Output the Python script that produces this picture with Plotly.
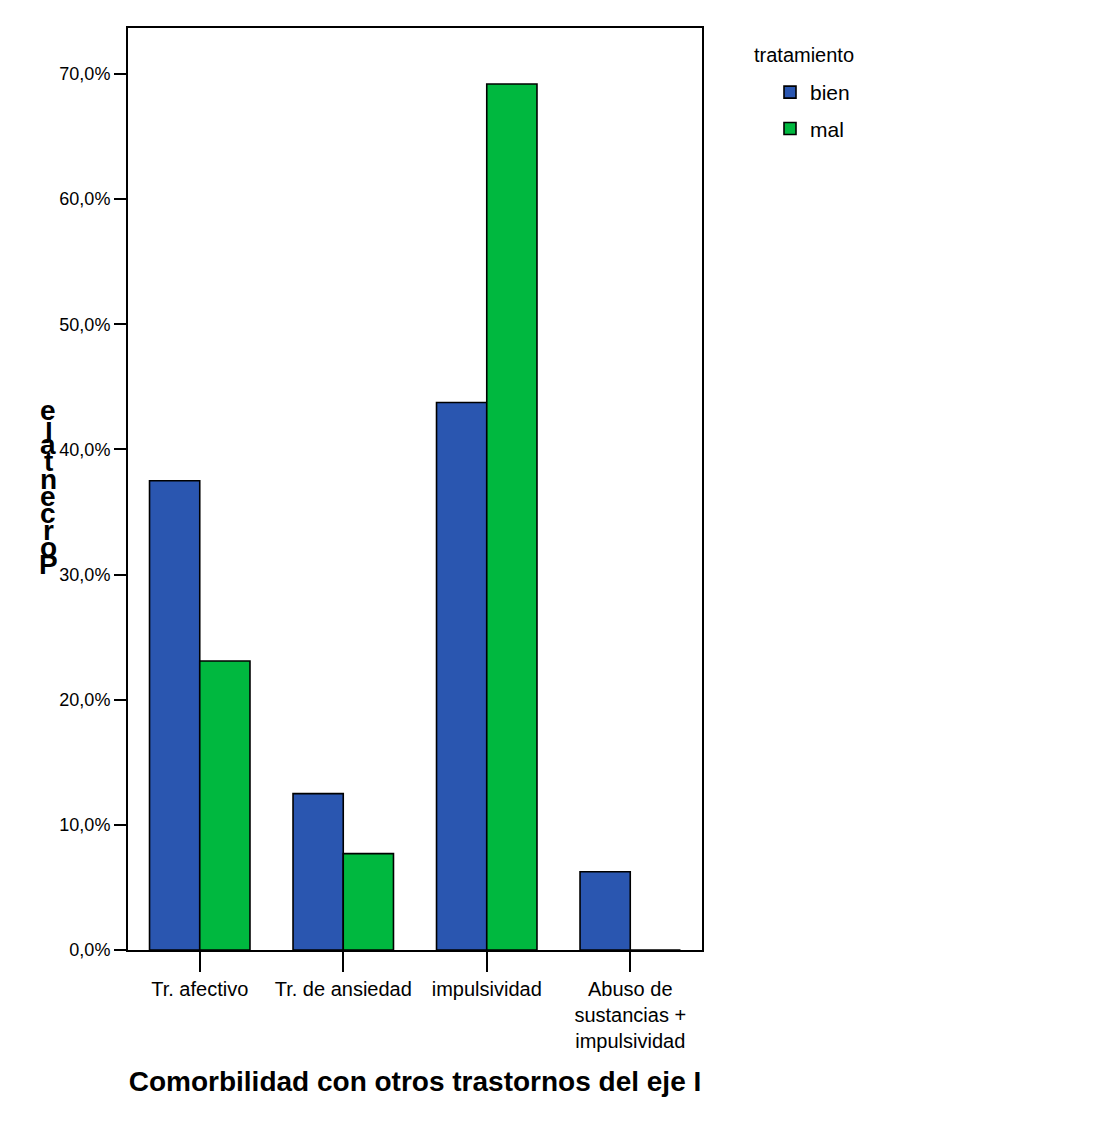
import plotly.graph_objects as go

categories = ["Tr. afectivo", "Tr. de ansiedad", "impulsividad",
              "Abuso de<br>sustancias +<br>impulsividad"]
bien = [0.375, 0.125, 0.4375, 0.0625]
mal = [0.231, 0.077, 0.692, 0.0]
tick_vals = [0, 0.1, 0.2, 0.3, 0.4, 0.5, 0.6, 0.7]

FONT = "Liberation Sans Narrow, Arial Narrow, Liberation Sans, Arial, sans-serif"
BLUE = "#2A56B0"
GREEN = "#00B83F"

fig = go.Figure()
fig.add_trace(go.Bar(x=categories, y=bien, name="bien", legendgroup="a",
                     marker=dict(color=BLUE, line=dict(color="black", width=1.6))))
fig.add_trace(go.Bar(x=categories, y=mal, name="mal", legendgroup="b",
                     marker=dict(color=GREEN, line=dict(color="black", width=1.6))))

# page has an 8px body margin; figure is placed at (8, 8)
W, H = 1090, 1127
L, R, T, B = 120, 694, 20, 942
fig.update_layout(
    width=W, height=H,
    margin=dict(l=L, r=W - R, t=T, b=H - B, pad=0),
    paper_bgcolor="white", plot_bgcolor="white",
    barmode="group", bargap=0.3, bargroupgap=0,
    separators=",.",
    font=dict(family=FONT, size=20, color="black"),
    showlegend=True,
    legend=dict(x=(762 - L) / (R - L), y=(B - 64) / (B - T), xanchor="left", yanchor="top",
                font=dict(family=FONT, size=21), itemwidth=30, tracegroupgap=6,
                bgcolor="rgba(0,0,0,0)"),
    xaxis=dict(
        range=[-0.5, 3.5], showline=True, linecolor="black", linewidth=2, mirror=True,
        ticks="outside", ticklen=20, tickwidth=2, tickcolor="black",
        showgrid=False, tickfont=dict(family=FONT, size=20),
        title=dict(text="<b>Comorbilidad con otros trastornos del eje I</b>",
                   font=dict(family=FONT, size=28), standoff=20),
    ),
    yaxis=dict(
        range=[0, (B - T) / 1251.4], showline=True, linecolor="black", linewidth=2, mirror=True,
        ticks="outside", ticklen=12, tickwidth=2, tickcolor="black",
        tickvals=tick_vals, tickformat=".1%", showgrid=False, zeroline=False,
        tickfont=dict(family=FONT, size=18),
    ),
)

fig.add_annotation(text="tratamiento", xref="paper", yref="paper",
                   x=(744 - L) / (R - L), y=(B - 47) / (B - T), xanchor="left", yanchor="middle",
                   showarrow=False, font=dict(family=FONT, size=20))

letters = list("Porcentaje")
for i, ch in enumerate(letters):
    py = 556 - i * 17
    fig.add_annotation(text="<b>" + ch + "</b>", xref="paper", yref="paper",
                       x=(40 - L) / (R - L), y=(B - py) / (B - T),
                       xanchor="center", yanchor="middle", showarrow=False,
                       font=dict(family="Liberation Sans, Arial, sans-serif", size=28))

fig.write_html("out.html")
